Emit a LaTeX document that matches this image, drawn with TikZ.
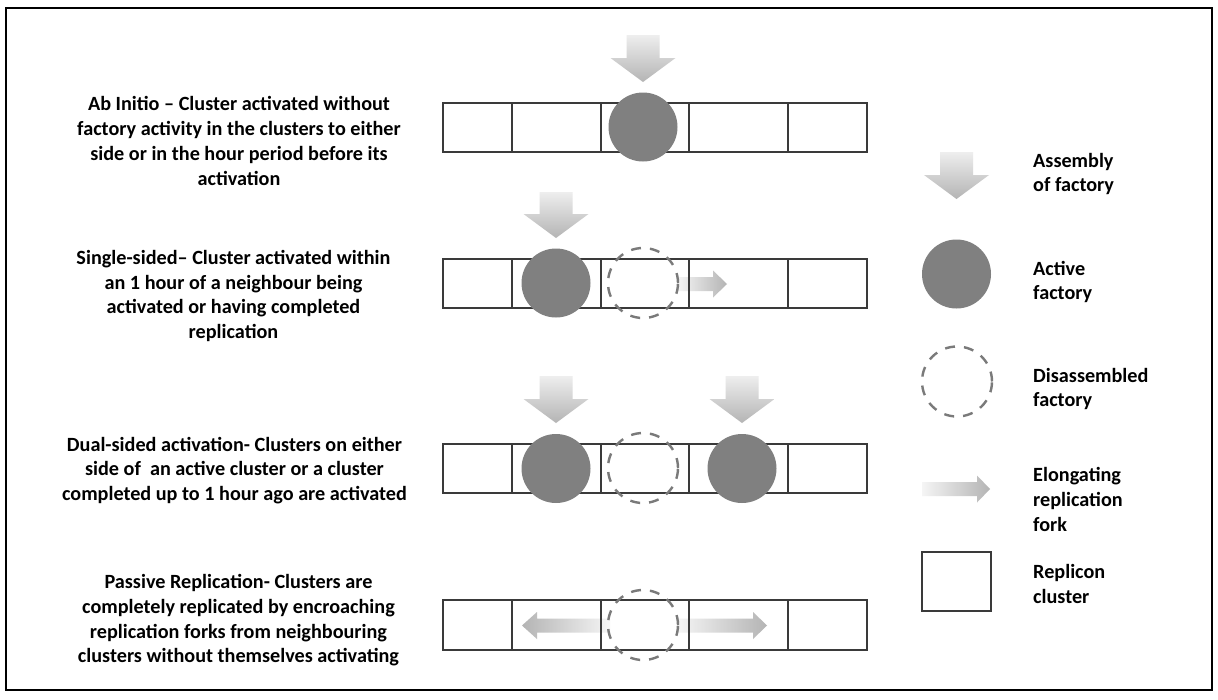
\documentclass[tikz,border=0pt]{standalone}
\usepackage{fontspec}
\setmainfont{Carlito}
\usetikzlibrary{calc}

\definecolor{factorygray}{HTML}{808080}
\definecolor{dashgray}{HTML}{7A7A7A}
\definecolor{cellline}{HTML}{3A3A3A}
\definecolor{arrowlight}{HTML}{EEEEEE}
\definecolor{arrowdark}{HTML}{B4B4B4}

% down arrow: centre x, top y, tip y
\newcommand{\assemblyarrow}[3]{%
  \path[assembly] ({#1-16.5},#2) -- ({#1+16.5},#2) -- ({#1+16.5},{#3-24})
    -- ({#1+32.5},{#3-24}) -- (#1,#3) -- ({#1-32.5},{#3-24})
    -- ({#1-16.5},{#3-24}) -- cycle;}
% horizontal fork arrow: tail x, head base x, tip x, centre y, shading style
\newcommand{\forkarrow}[5]{%
  \path[#5] (#1,{#4-7}) -- (#2,{#4-7}) -- (#2,{#4-13.5}) -- (#3,#4)
    -- (#2,{#4+13.5}) -- (#2,{#4+7}) -- (#1,{#4+7}) -- cycle;}
% one row of five replicon clusters: top y, bottom y
\newcommand{\clusterrow}[2]{%
  \foreach \a/\b in {443/512,512/601,601/689,689/788,788/867}
    \draw[cell] (\a,#1) rectangle (\b,#2);}

\begin{document}
\begin{tikzpicture}[x=1pt,y=-1pt,
  cell/.style={draw=cellline,line width=1.7pt,fill=none},
  active/.style={circle,fill=factorygray,draw=none,minimum size=69pt,inner sep=0pt},
  disassembled/.style={circle,draw=dashgray,line width=2.4pt,dash pattern=on 10pt off 9pt,
    minimum size=70pt,inner sep=0pt},
  assembly/.style={top color=arrowlight,bottom color=arrowdark,draw=none},
  forkright/.style={left color=arrowlight!60!white,right color=arrowdark,draw=none},
  forkleft/.style={left color=arrowdark,right color=arrowlight!60!white,draw=none},
  desc/.style={align=center,font=\fontsize{20.2}{24.7}\selectfont\bfseries,inner sep=0pt},
  legend/.style={align=left,anchor=west,font=\fontsize{20.2}{24.7}\selectfont\bfseries,inner sep=0pt}]

% canvas and frame
\fill[white] (0,0) rectangle (1218,699);
\draw[black,line width=1.6pt] (6,8) rectangle (1212,690);

% fork arrows sit under the cluster outlines
\forkarrow{678}{713}{727}{284}{forkright}
\forkarrow{678}{753}{767}{625.5}{forkright}
\forkarrow{610}{537}{522}{625.5}{forkleft}

% rows of clusters
\clusterrow{103}{152}
\clusterrow{259}{308}
\clusterrow{444}{493}
\clusterrow{600}{650}

% factories
\node[active] (f1) at (643,127) {};
\node[active] (f2) at (556,283) {};
\node[disassembled] (d2) at (643,283) {};
\node[active] (f3a) at (556,468.5) {};
\node[active] (f3b) at (742,468.5) {};
\node[disassembled] (d3) at (643,468) {};
\node[disassembled] (d4) at (643,625) {};

% assembly arrows
\assemblyarrow{643}{35}{82}
\assemblyarrow{556}{192}{238}
\assemblyarrow{556}{376}{423}
\assemblyarrow{742}{376}{423}

% descriptions
\node[desc] (t1) at (239,141) {Ab Initio -- Cluster activated without\\factory activity in the clusters to either\\side or in the hour period before its\\activation};
\node[desc] (t2) at (233.5,296) {Single-sided-- Cluster activated within\\an 1 hour of a neighbour being\\activated or having completed\\replication};
\node[desc] (t3) at (234.5,470.5) {Dual-sided activation- Clusters on either\\side of\ \ an active cluster or a cluster\\completed up to 1 hour ago are activated};
\node[desc] (t4) at (238.5,620.5) {Passive Replication- Clusters are\\completely replicated by encroaching\\replication forks from neighbouring\\clusters without themselves activating};

% legend
\assemblyarrow{956.5}{152}{199}
\node[active] (lf) at (956.5,274) {};
\node[disassembled] (ld) at (957,381.5) {};
\forkarrow{922}{977}{990}{489}{forkright}
\draw[cell] (922,552) rectangle (991,611);

\node[legend] (l1) at (1033,174) {Assembly\\of factory};
\node[legend] (l2) at (1033,282) {Active\\factory};
\node[legend] (l3) at (1033,389) {Disassembled\\factory};
\node[legend] (l4) at (1033,499.5) {Elongating\\replication\\fork};
\node[legend] (l5) at (1033,584) {Replicon\\cluster};
\end{tikzpicture}
\end{document}
